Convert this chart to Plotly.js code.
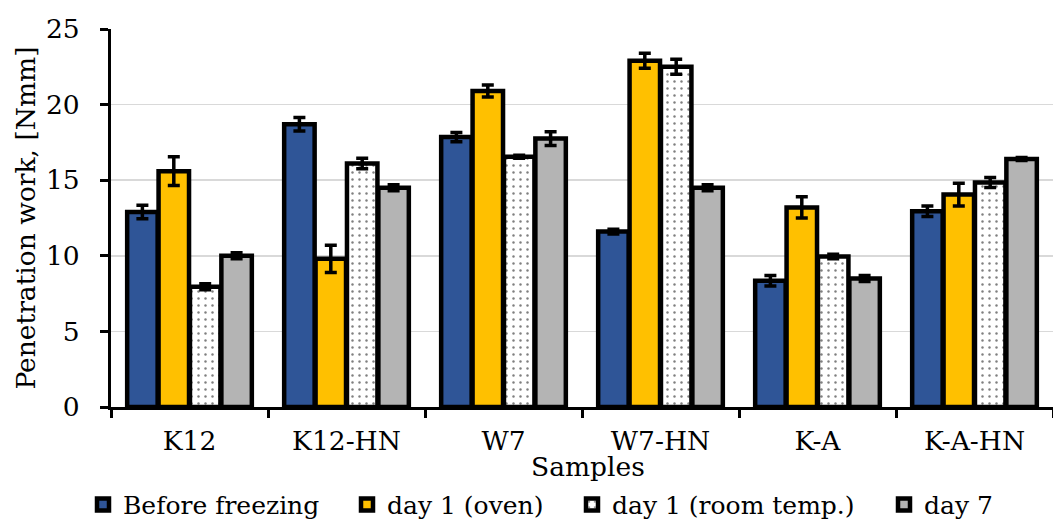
<!DOCTYPE html>
<html>
<head>
<meta charset="utf-8">
<script src="https://cdn.plot.ly/plotly-3.0.1.min.js"></script>
<style>html,body{margin:0;padding:0;background:#fff;}#chart{width:1053px;height:522px;}</style>
</head>
<body>
<div id="chart"></div>
<script>
const categories = ["K12", "K12-HN", "W7", "W7-HN", "K-A", "K-A-HN"];
const seriesNames = ["Before freezing", "day 1 (oven)", "day 1 (room temp.)", "day 7"];
const beforeFreezing = [12.9, 18.7, 17.85, 11.6, 8.35, 12.95];
const beforeFreezingErr = [0.45, 0.45, 0.3, 0.15, 0.35, 0.35];
const day1Oven = [15.6, 9.8, 20.9, 22.9, 13.2, 14.05];
const day1OvenErr = [0.95, 0.9, 0.4, 0.5, 0.7, 0.75];
const day1Room = [7.95, 16.1, 16.55, 22.5, 9.95, 14.85];
const day1RoomErr = [0.2, 0.35, 0.1, 0.5, 0.15, 0.33];
const day7 = [10.0, 14.5, 17.75, 14.5, 8.5, 16.4];
const day7Err = [0.2, 0.2, 0.45, 0.2, 0.2, 0.1];

const FONT = "DejaVu Serif";
const FS = 26.5;
const LFS = 25;
function errObj(arr) {
  return {type: "data", array: arr, visible: true, color: "#000", thickness: 3.5, width: 6};
}
const line = {color: "#000", width: 4.5};
const traces = [
  {type: "bar", name: seriesNames[0], x: categories, y: beforeFreezing, error_y: errObj(beforeFreezingErr),
   legend: "legend", marker: {color: "#2F5597", line: line}},
  {type: "bar", name: seriesNames[1], x: categories, y: day1Oven, error_y: errObj(day1OvenErr),
   legend: "legend2", marker: {color: "#FFC000", line: line}},
  {type: "bar", name: seriesNames[2], x: categories, y: day1Room, error_y: errObj(day1RoomErr),
   legend: "legend3", marker: {color: "#FFFFFF", line: line,
     pattern: {shape: ".", fgcolor: "#000", bgcolor: "#FFFFFF", fillmode: "overlay", size: 7, solidity: 0.1}}},
  {type: "bar", name: seriesNames[3], x: categories, y: day7, error_y: errObj(day7Err),
   legend: "legend4", marker: {color: "#B4B4B4", line: line}}
];

function leg(xpx) {
  return {orientation: "h", xref: "container", yref: "container", x: xpx / 1053, xanchor: "left",
          y: 0.033, yanchor: "middle", font: {family: FONT, size: LFS, color: "#000"},
          itemwidth: 30, bgcolor: "rgba(0,0,0,0)"};
}

const layout = {
  width: 1053, height: 522,
  margin: {l: 111, r: 0, t: 29, b: 115},
  paper_bgcolor: "#fff", plot_bgcolor: "#fff",
  font: {family: FONT, size: FS, color: "#000"},
  barmode: "group",
  bargap: 0.2,
  bargroupgap: 0.03,
  showlegend: true,
  legend: leg(83),
  legend2: leg(347),
  legend3: leg(572),
  legend4: leg(884),
  xaxis: {
    type: "category",
    showline: true, linecolor: "#000", linewidth: 3,
    ticks: "outside", tickson: "boundaries", ticklen: 8, tickwidth: 3, tickcolor: "#000",
    ticklabelstandoff: 8,
    showgrid: false, zeroline: false,
    tickfont: {family: FONT, size: FS, color: "#000"}
  },
  yaxis: {
    range: [0, 25], dtick: 5,
    showline: true, linecolor: "#000", linewidth: 3,
    ticks: "outside", ticklen: 8, tickwidth: 3, tickcolor: "#000",
    ticklabelstandoff: 15,
    showgrid: true, gridcolor: "#D9D9D9", gridwidth: 1.5,
    zeroline: false,
    tickfont: {family: FONT, size: FS, color: "#000"},
    title: {text: "Penetration work, [Nmm]", font: {family: FONT, size: FS, color: "#000"}, standoff: 3}
  },
  annotations: [{
    text: "Samples", xref: "paper", yref: "paper", x: 0.506, y: -0.158,
    xanchor: "center", yanchor: "middle", showarrow: false,
    font: {family: FONT, size: FS, color: "#000"}
  }]
};

Plotly.newPlot("chart", traces, layout, {displayModeBar: false, staticPlot: true});
</script>
</body>
</html>
